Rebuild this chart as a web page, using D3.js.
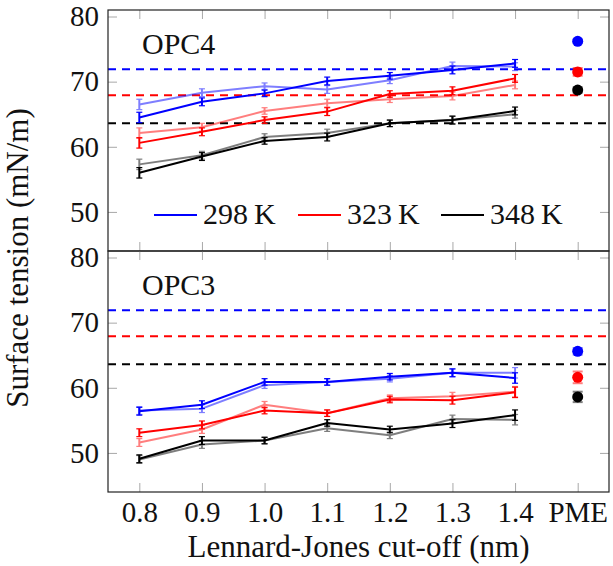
<!DOCTYPE html>
<html>
<head>
<meta charset="utf-8">
<script src="https://cdn.jsdelivr.net/npm/d3@7"></script>
<style>
  body { margin: 0; background: #fff; }
  svg text { font-family: "Liberation Serif", "Times New Roman", serif; fill: #111; }
</style>
</head>
<body>
<svg id="chart-svg"></svg>
<script>
const cutoffs = ["0.8", "0.9", "1.0", "1.1", "1.2", "1.3", "1.4"];
const xTickLabels = ["0.8", "0.9", "1.0", "1.1", "1.2", "1.3", "1.4", "PME"];
const yTicks = [50, 60, 70, 80];
const temps = ["298\u2009K", "323\u2009K", "348\u2009K"];
const tempColors = ["#0000ff", "#ff0000", "#000000"];
const expTension = [71.9, 67.9, 63.6];

// OPC4 (top panel)
const opc4_298 = [64.5, 66.9, 68.2, 70.1, 70.9, 71.8, 72.8];
const opc4_298b = [66.5, 68.3, 69.3, 68.8, 70.2, 72.4, 72.3];
const opc4_323 = [60.6, 62.3, 64.1, 65.4, 68.1, 68.6, 70.5];
const opc4_323b = [62.1, 63.0, 65.5, 66.7, 67.3, 67.8, 69.5];
const opc4_348 = [56.0, 58.5, 60.9, 61.5, 63.6, 64.1, 65.5];
const opc4_348b = [57.3, 58.7, 61.5, 62.1, 63.6, 64.1, 65.0];
const opc4_err = [0.8, 0.6, 0.5, 0.6, 0.5, 0.6, 0.6];
const opc4_pme = [76.2, 71.5, 68.7];
const opc4_pmeErr = [0.3, 0.6, 0.4];

// OPC3 (bottom panel)
const opc3_298 = [56.4, 57.4, 60.9, 60.9, 61.7, 62.3, 61.5];
const opc3_298b = [56.5, 56.8, 60.4, 60.9, 61.4, 62.3, 62.3];
const opc3_323 = [53.1, 54.3, 56.5, 56.1, 58.2, 58.1, 59.3];
const opc3_323b = [51.6, 53.6, 57.4, 56.1, 58.4, 58.7, 59.4];
const opc3_348 = [49.1, 51.9, 51.9, 54.6, 53.6, 54.5, 55.8];
const opc3_348b = [49.0, 51.3, 51.9, 53.8, 52.7, 55.2, 55.1];
const opc3_err = [0.6, 0.6, 0.5, 0.5, 0.5, 0.6, 0.8];
const opc3_pme = [65.6, 61.6, 58.6];
const opc3_pmeErr = [0.5, 0.9, 0.8];

const panels = [
  {
    name: "OPC4",
    dark: [opc4_298, opc4_323, opc4_348],
    light: [opc4_298b, opc4_323b, opc4_348b],
    err: opc4_err,
    pme: opc4_pme,
    pmeErr: opc4_pmeErr,
    top: 10,
    legend: true,
  },
  {
    name: "OPC3",
    dark: [opc3_298, opc3_323, opc3_348],
    light: [opc3_298b, opc3_323b, opc3_348b],
    err: opc3_err,
    pme: opc3_pme,
    pmeErr: opc3_pmeErr,
    top: 251,
    legend: false,
  },
];

const svgWidth = 613;
const svgHeight = 566;
const left = 108;
const right = 609;
const panelH = 241;
const tick = 9;
const fontSize = 29;

const svg = d3
  .select("#chart-svg")
  .attr("width", svgWidth)
  .attr("height", svgHeight);

const xScale = d3.scaleLinear().domain([-0.5, 7.5]).range([left, right]);

function styleAxis(g) {
  g.select(".domain").remove();
  g.selectAll(".tick line").attr("stroke", "#a8a8a8").attr("stroke-width", 1);
  g.selectAll(".tick text")
    .attr("font-family", "Liberation Serif, serif")
    .attr("font-size", fontSize)
    .attr("fill", "#111");
}

panels.forEach((p, pi) => {
  const yScale = d3.scaleLinear().domain([44, 81]).range([p.top + panelH, p.top]);
  const g = svg.append("g");
  const bottomY = p.top + panelH;

  // ticks on all four sides, pointing inward
  g.append("g")
    .attr("transform", `translate(${left},0)`)
    .call(d3.axisLeft(yScale).tickValues(yTicks).tickSize(-tick).tickPadding(9))
    .call(styleAxis);
  g.append("g")
    .attr("transform", `translate(${right},0)`)
    .call(d3.axisRight(yScale).tickValues(yTicks).tickSize(-tick).tickFormat(""))
    .call(styleAxis);
  g.append("g")
    .attr("transform", `translate(0,${p.top})`)
    .call(d3.axisTop(xScale).tickValues(d3.range(8)).tickSize(-tick).tickFormat(""))
    .call(styleAxis);
  g.append("g")
    .attr("transform", `translate(0,${bottomY})`)
    .call(
      d3.axisBottom(xScale)
        .tickValues(d3.range(8))
        .tickSize(-tick)
        .tickPadding(9)
        .tickFormat((d) => (pi === 1 ? xTickLabels[d] : ""))
    )
    .call(styleAxis);

  // experimental reference lines
  g.selectAll(".ref")
    .data(expTension)
    .join("line")
    .attr("x1", left)
    .attr("x2", right)
    .attr("y1", (d) => yScale(d))
    .attr("y2", (d) => yScale(d))
    .attr("stroke", (d, i) => tempColors[i])
    .attr("stroke-width", 2)
    .attr("stroke-dasharray", "8,6");

  const line = d3
    .line()
    .x((d, i) => xScale(i))
    .y((d) => yScale(d));

  function drawSeries(vals, color, opacity) {
    const s = g.append("g").attr("opacity", opacity);
    vals.forEach((v, i) => {
      const x = xScale(i);
      const e = p.err[i];
      s.append("line")
        .attr("x1", x).attr("x2", x)
        .attr("y1", yScale(v - e)).attr("y2", yScale(v + e))
        .attr("stroke", color).attr("stroke-width", 2);
      [v - e, v + e].forEach((c) => {
        s.append("line")
          .attr("x1", x - 3).attr("x2", x + 3)
          .attr("y1", yScale(c)).attr("y2", yScale(c))
          .attr("stroke", color).attr("stroke-width", 1.2);
      });
    });
    s.append("path")
      .datum(vals)
      .attr("d", line)
      .attr("fill", "none")
      .attr("stroke", color)
      .attr("stroke-width", 2)
      .attr("stroke-linejoin", "round");
  }

  p.dark.forEach((vals, t) => drawSeries(vals, tempColors[t], 1));
  p.light.forEach((vals, t) => drawSeries(vals, tempColors[t], 0.5));

  // PME points
  p.pme.forEach((v, t) => {
    const x = xScale(7);
    const e = p.pmeErr[t];
    const eb = g.append("g").attr("opacity", 0.5);
    eb.append("line")
      .attr("x1", x).attr("x2", x)
      .attr("y1", yScale(v - e)).attr("y2", yScale(v + e))
      .attr("stroke", tempColors[t]).attr("stroke-width", 2);
    [v - e, v + e].forEach((c) => {
      eb.append("line")
        .attr("x1", x - 5).attr("x2", x + 5)
        .attr("y1", yScale(c)).attr("y2", yScale(c))
        .attr("stroke", tempColors[t]).attr("stroke-width", 2);
    });
    g.append("circle")
      .attr("cx", x)
      .attr("cy", yScale(v))
      .attr("r", 5.5)
      .attr("fill", tempColors[t]);
  });

  // frame
  g.append("rect")
    .attr("x", left)
    .attr("y", p.top)
    .attr("width", right - left)
    .attr("height", panelH)
    .attr("fill", "none")
    .attr("stroke", "#222")
    .attr("stroke-width", 1.2);

  g.append("text")
    .attr("x", 142)
    .attr("y", p.top + 44)
    .attr("font-size", 30)
    .text(p.name);

  if (p.legend) {
    const legX = [154, 298, 441];
    temps.forEach((t, i) => {
      g.append("line")
        .attr("x1", legX[i])
        .attr("x2", legX[i] + 43)
        .attr("y1", p.top + 205)
        .attr("y2", p.top + 205)
        .attr("stroke", tempColors[i])
        .attr("stroke-width", 2);
      g.append("text")
        .attr("x", legX[i] + 49)
        .attr("y", p.top + 214)
        .attr("font-size", 30)
        .text(t);
    });
  }
});

svg.append("text")
  .attr("transform", `translate(28, 258) rotate(-90)`)
  .attr("text-anchor", "middle")
  .attr("font-size", 31)
  .text("Surface tension (mN/m)");

svg.append("text")
  .attr("x", (left + right) / 2)
  .attr("y", 557)
  .attr("text-anchor", "middle")
  .attr("font-size", 31)
  .text("Lennard-Jones cut-off (nm)");
</script>
</body>
</html>
